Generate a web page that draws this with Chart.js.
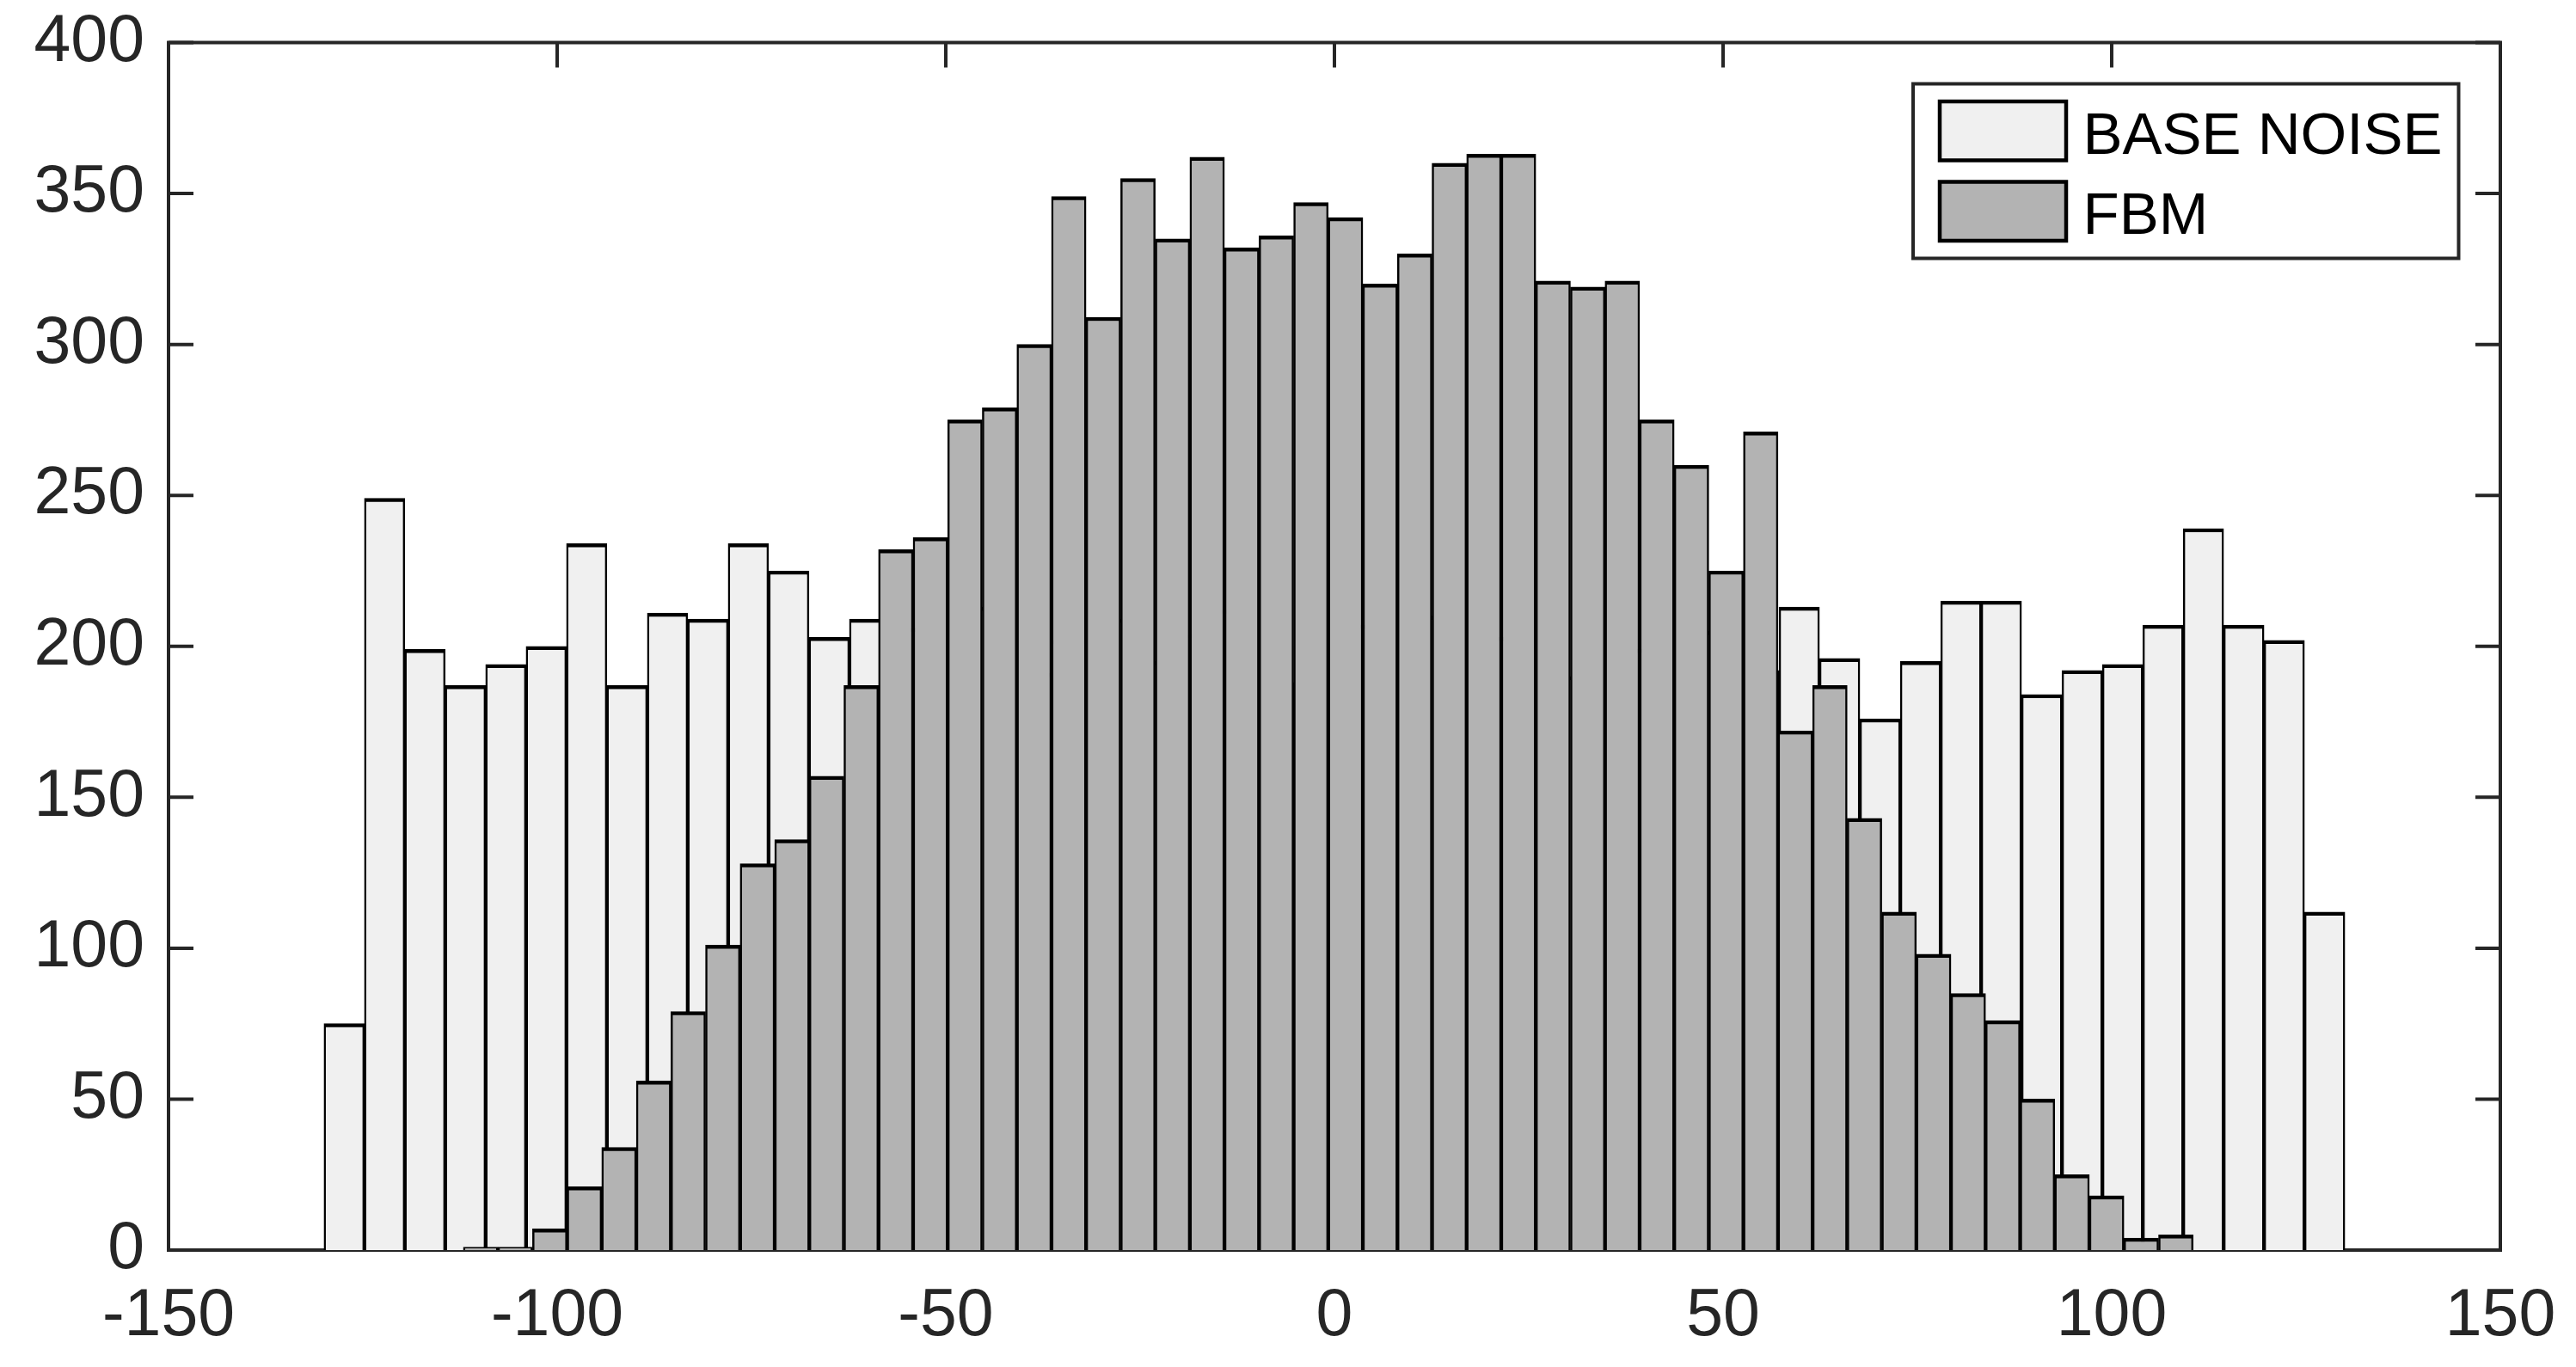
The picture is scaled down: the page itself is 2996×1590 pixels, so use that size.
<!DOCTYPE html>
<html>
<head>
<meta charset="utf-8">
<script src="https://cdn.jsdelivr.net/npm/chart.js@4.4.1/dist/chart.umd.min.js"></script>
<style>
  html, body { margin: 0; padding: 0; background: #ffffff; }
  #wrap { width: 2996px; height: 1590px; }
</style>
</head>
<body>
<div id="wrap"><canvas id="c" width="2996" height="1590"></canvas></div>
<script>
// ---------------- DATA ----------------
const seriesLabels = ['BASE NOISE', 'FBM'];

// BASE NOISE histogram: 50 bins from -130, bin width 5.2
const baseBinStart = -130;
const baseBinWidth = 5.2;
const baseCounts = [
  75, 249, 199, 187, 194, 200, 234, 187, 211, 209, 234, 225, 203, 209,
  206, 198, 213, 191, 202, 209, 195, 204, 212, 188, 200, 207, 193, 210,
  197, 203, 190, 208, 199, 196, 205, 192,
  213, 196, 176, 195, 215, 215, 184, 192, 194, 207, 239, 207, 202, 112
];

// FBM histogram: 50 bins from about -112.07, bin width about 4.451
const fbmBinStart = -112.07;
const fbmBinWidth = 4.451;
const fbmCounts = [
  1, 1, 7, 21, 34, 56, 79, 101, 128, 136,
  157, 187, 232, 236, 275, 279, 300, 349, 309, 355,
  335, 362, 332, 336, 347, 342, 320, 330, 360, 363,
  363, 321, 319, 321, 275, 260, 225, 271, 172, 187,
  143, 112, 98, 85, 76, 50, 25, 18, 4, 5
];

const xTickValues = [-150, -100, -50, 0, 50, 100, 150];
const yTickValues = [0, 50, 100, 150, 200, 250, 300, 350, 400];

// ---------------- BUILD ----------------
function toPoints(start, width, counts) {
  return counts.map((c, i) => ({ x: start + width * (i + 0.5), y: c }));
}

const AXIS_COLOR = '#262626';
const TICK_FONT = { family: '"Liberation Sans", Arial, Helvetica, sans-serif', size: 77 };
const LEGEND_FONT = '69px "Liberation Sans", Arial, Helvetica, sans-serif';

const framePlugin = {
  id: 'matlabFrame',
  beforeDatasetsDraw(chart) {
    const { ctx, chartArea: a, scales } = chart;
    const x = scales.x, y = scales.y;
    const L = 29;
    ctx.save();
    ctx.strokeStyle = AXIS_COLOR;
    ctx.lineWidth = 4;
    ctx.lineCap = 'butt';
    ctx.beginPath();
    x.ticks.forEach(t => {
      const px = x.getPixelForValue(t.value);
      ctx.moveTo(px, a.bottom); ctx.lineTo(px, a.bottom - L);
      ctx.moveTo(px, a.top); ctx.lineTo(px, a.top + L);
    });
    y.ticks.forEach(t => {
      const py = y.getPixelForValue(t.value);
      ctx.moveTo(a.left, py); ctx.lineTo(a.left + L, py);
      ctx.moveTo(a.right, py); ctx.lineTo(a.right - L, py);
    });
    ctx.stroke();
    ctx.strokeRect(a.left, a.top, a.right - a.left, a.bottom - a.top);
    ctx.restore();
  }
};

const legendPlugin = {
  id: 'matlabLegend',
  afterDatasetsDraw(chart) {
    const { ctx, chartArea: a } = chart;
    const boxW = 634.5, boxH = 203;
    const bx = a.right - 683, by = a.top + 48;
    ctx.save();
    ctx.fillStyle = '#ffffff';
    ctx.fillRect(bx, by, boxW, boxH);
    ctx.strokeStyle = AXIS_COLOR;
    ctx.lineWidth = 4;
    ctx.strokeRect(bx, by, boxW, boxH);
    const rowTops = [20.5, 114];
    const baselines = [81, 174.5];
    chart.data.datasets.forEach((ds, i) => {
      const sx = bx + 31, sy = by + rowTops[i];
      ctx.fillStyle = ds.backgroundColor;
      ctx.fillRect(sx, sy, 147, 68.5);
      ctx.strokeStyle = '#000000';
      ctx.lineWidth = 4.5;
      ctx.strokeRect(sx, sy, 147, 68.5);
      ctx.fillStyle = '#000000';
      ctx.font = LEGEND_FONT;
      ctx.textAlign = 'left';
      ctx.textBaseline = 'alphabetic';
      ctx.fillText(ds.label, bx + 197.5, by + baselines[i]);
    });
    ctx.restore();
  }
};

const barBorder = { top: 4.5, left: 2.5, right: 2.5, bottom: 0 };

new Chart(document.getElementById('c'), {
  type: 'bar',
  data: {
    datasets: [
      {
        label: seriesLabels[0],
        data: toPoints(baseBinStart, baseBinWidth, baseCounts),
        xAxisID: 'x',
        backgroundColor: '#f0f0f0',
        borderColor: '#000000',
        borderWidth: barBorder,
        barPercentage: 1,
        categoryPercentage: 1,
        grouped: false,
        order: 2
      },
      {
        label: seriesLabels[1],
        data: toPoints(fbmBinStart, fbmBinWidth, fbmCounts),
        xAxisID: 'x2',
        backgroundColor: '#b3b3b3',
        borderColor: '#000000',
        borderWidth: barBorder,
        barPercentage: 1,
        categoryPercentage: 1,
        grouped: false,
        order: 1
      }
    ]
  },
  options: {
    responsive: false,
    animation: false,
    devicePixelRatio: 1,
    layout: { padding: { top: 49.5, right: 88, bottom: 0, left: 0 } },
    plugins: {
      legend: { display: false },
      tooltip: { enabled: false }
    },
    scales: {
      x: {
        type: 'linear',
        position: 'bottom',
        min: -150, max: 150,
        offset: false,
        grid: { display: false, drawTicks: false, offset: false },
        border: { display: false },
        afterBuildTicks: s => { s.ticks = xTickValues.map(v => ({ value: v })); },
        afterFit: s => { s.height = 136; s.paddingLeft = 0; s.paddingRight = 0; },
        ticks: { color: AXIS_COLOR, font: TICK_FONT, padding: 32, maxRotation: 0, autoSkip: false }
      },
      x2: {
        type: 'linear',
        position: 'bottom',
        display: false,
        min: -150, max: 150,
        offset: false,
        grid: { display: false, offset: false },
        afterBuildTicks: s => { s.ticks = xTickValues.map(v => ({ value: v })); }
      },
      y: {
        type: 'linear',
        min: 0, max: 400,
        grid: { display: false, drawTicks: false },
        border: { display: false },
        afterBuildTicks: s => { s.ticks = yTickValues.map(v => ({ value: v })); },
        afterFit: s => { s.width = 196; s.paddingTop = 0; s.paddingBottom = 0; },
        ticks: { color: AXIS_COLOR, font: TICK_FONT, padding: 28, autoSkip: false }
      }
    }
  },
  plugins: [framePlugin, legendPlugin]
});
</script>
</body>
</html>
